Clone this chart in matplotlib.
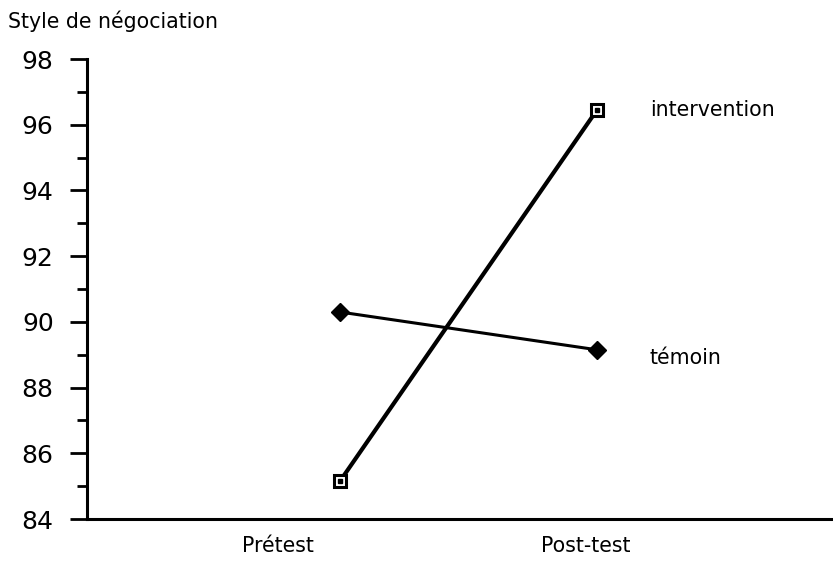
import matplotlib
matplotlib.use("Agg")
import matplotlib.pyplot as plt
from matplotlib.ticker import MultipleLocator

# data
phases = ["Prétest", "Post-test"]
intervention = [85.15, 96.45]
temoin = [90.3, 89.15]
series_names = ["intervention", "témoin"]

fig = plt.figure(figsize=(8.33, 5.62), dpi=100)
ax = fig.add_axes([0.1044, 0.0765, 0.8956, 0.8185])

x = [1, 2]
ax.plot(x, intervention, color="black", lw=3.0, marker="s", ms=9,
        mfc="white", mec="black", mew=2.2, zorder=3)
ax.plot(x, intervention, ls="none", marker="s", ms=2.5, color="black", zorder=4)
ax.plot(x, temoin, color="black", lw=2.2, marker="D", ms=9, mfc="black",
        mec="black", zorder=3)

ax.set_xlim(0.016, 2.918)
ax.set_ylim(84, 98)
ax.yaxis.set_major_locator(MultipleLocator(2))
ax.yaxis.set_minor_locator(MultipleLocator(1))
ax.tick_params(axis="y", which="major", length=12, width=2, pad=12,
               labelsize=18, direction="out")
ax.tick_params(axis="y", which="minor", length=7, width=2, direction="out")
for lab in ax.get_yticklabels():
    lab.set_family("DejaVu Sans")

txt = dict(family="DejaVu Sans", fontsize=14.8)

# category labels sit a little left of the points, as in the original
ax.set_xticks([0.76, 1.957])
ax.set_xticklabels(phases, **txt)
ax.tick_params(axis="x", length=0, pad=12)

ax.spines["top"].set_visible(False)
ax.spines["right"].set_visible(False)
ax.spines["left"].set_linewidth(2.2)
ax.spines["bottom"].set_linewidth(2.2)

ax.text(2.206, intervention[1], series_names[0], va="center", ha="left", **txt)
ax.text(2.206, 88.9, series_names[1], va="center", ha="left", **txt)

fig.text(0.01, 0.963, "Style de négociation", va="center", ha="left", **txt)

fig.savefig("out.png", dpi=100)
